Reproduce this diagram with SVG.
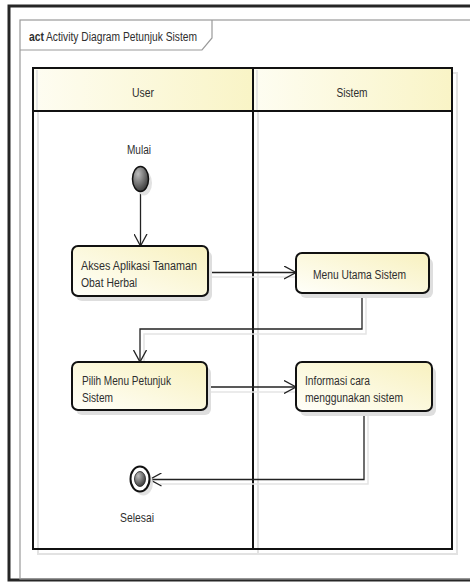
<svg xmlns="http://www.w3.org/2000/svg" width="470" height="583" viewBox="0 0 470 583">
  <defs>
    <linearGradient id="hdrFill" x1="0" y1="0" x2="1" y2="0">
      <stop offset="0" stop-color="#fefdf2"/>
      <stop offset="1" stop-color="#f9f4c6"/>
    </linearGradient>
    <linearGradient id="actFill" x1="0" y1="1" x2="1" y2="0">
      <stop offset="0" stop-color="#fffffa"/>
      <stop offset="1" stop-color="#f8f1bf"/>
    </linearGradient>
    <radialGradient id="nodeFill" cx="0.35" cy="0.3" r="0.8">
      <stop offset="0" stop-color="#bdbdbd"/>
      <stop offset="1" stop-color="#2e2e2e"/>
    </radialGradient>
    <marker id="open" viewBox="0 0 12 14" refX="12" refY="7" markerWidth="12" markerHeight="14" markerUnits="userSpaceOnUse" orient="auto">
      <path d="M0,0.5 L12,7 L0,13.5" fill="none" stroke="#222" stroke-width="1.3"/>
    </marker>
  </defs>
  <style>
    .frame { fill: none; stroke: #262626; stroke-width: 3; }
    .inner { fill: none; stroke: #9a9a9a; stroke-width: 1.2; }
    .lane { fill: none; stroke: #111; stroke-width: 2; }
    .shadow { fill: none; stroke: #e2e2e2; stroke-width: 2; }
    .box { fill: url(#actFill); stroke: #111; stroke-width: 2; }
    .boxShadow { fill: #dedede; }
    .txt { font-family: "Liberation Sans", Arial, sans-serif; font-size: 12.5px; fill: #2e2e2e; }
    .edge { fill: none; stroke: #222; stroke-width: 1.3; }
    .edgeShadow { fill: none; stroke: #e4e4e4; stroke-width: 1.5; }
  </style>

  <rect width="470" height="583" fill="#ffffff"/>

  <!-- outer frame and diagram frame -->
  <rect class="frame" x="9" y="6" width="470" height="574"/>
  <rect class="inner" x="20" y="20" width="470" height="559"/>

  <!-- diagram name tab -->
  <g id="title">
    <path class="inner" d="M20,50 H202 L212,38 V20"/>
    <text x="29" y="41" class="txt" font-size="12" font-weight="bold" fill="#000" textLength="15" lengthAdjust="spacingAndGlyphs">act</text>
    <text x="46" y="41" class="txt" font-size="12" textLength="151" lengthAdjust="spacingAndGlyphs">Activity Diagram Petunjuk Sistem</text>
  </g>

  <!-- swimlanes -->
  <g id="lanes">
    <rect class="shadow" x="38" y="73" width="220" height="481"/>
    <rect class="shadow" x="258" y="73" width="199" height="481"/>
    <rect x="33" y="68" width="220" height="43" fill="url(#hdrFill)"/>
    <rect x="253" y="68" width="199" height="43" fill="url(#hdrFill)"/>
    <line x1="37" y1="70" x2="37" y2="110" stroke="#e0e0e0" stroke-width="1.5"/>
    <line x1="257" y1="70" x2="257" y2="110" stroke="#e0e0e0" stroke-width="1.5"/>
    <rect class="lane" x="33" y="68" width="419" height="481"/>
    <line class="lane" x1="253" y1="68" x2="253" y2="549"/>
    <line class="lane" x1="33" y1="111" x2="452" y2="111"/>
    <text class="txt" x="143" y="97" text-anchor="middle" textLength="22" lengthAdjust="spacingAndGlyphs">User</text>
    <text class="txt" x="352" y="97" text-anchor="middle" textLength="31" lengthAdjust="spacingAndGlyphs">Sistem</text>
  </g>

  <!-- connectors -->
  <g id="connectors">
    <path class="edgeShadow" d="M212,277 H297"/>
    <path class="edgeShadow" d="M366,298 V334 H144 V362"/>
    <path class="edgeShadow" d="M211,392 H297"/>
    <path class="edgeShadow" d="M368,416 V484 H160"/>
    <path class="edge" d="M140.5,192 V246" marker-end="url(#open)"/>
    <path class="edge" d="M208,272.5 H296" marker-end="url(#open)"/>
    <path class="edge" d="M362,293 V329 H140 V362" marker-end="url(#open)"/>
    <path class="edge" d="M207,387 H296" marker-end="url(#open)"/>
    <path class="edge" d="M364,411 V479.5 H149.5" marker-end="url(#open)"/>
  </g>

  <!-- start node -->
  <g id="mulai">
    <ellipse cx="144" cy="183" rx="8" ry="12.5" fill="#e2e2e2"/>
    <ellipse cx="140.5" cy="179" rx="8" ry="12.5" fill="url(#nodeFill)" stroke="#111" stroke-width="1.5"/>
    <text class="txt" x="139" y="154" text-anchor="middle" textLength="24" lengthAdjust="spacingAndGlyphs">Mulai</text>
  </g>

  <!-- actions -->
  <g id="akses">
    <rect class="boxShadow" x="76" y="251" width="136" height="50" rx="6"/>
    <rect class="box" x="72" y="246" width="136" height="50" rx="6"/>
    <text class="txt" x="81" y="270" textLength="116" lengthAdjust="spacingAndGlyphs">Akses Aplikasi Tanaman</text>
    <text class="txt" x="81" y="287" textLength="56" lengthAdjust="spacingAndGlyphs">Obat Herbal</text>
  </g>

  <g id="menu-utama">
    <rect class="boxShadow" x="300" y="258" width="133" height="40" rx="6"/>
    <rect class="box" x="296" y="253" width="133" height="40" rx="6"/>
    <text class="txt" x="313" y="279" textLength="93" lengthAdjust="spacingAndGlyphs">Menu Utama Sistem</text>
  </g>

  <g id="pilih">
    <rect class="boxShadow" x="76" y="367" width="135" height="48" rx="6"/>
    <rect class="box" x="72" y="362" width="135" height="48" rx="6"/>
    <text class="txt" x="82" y="385" textLength="89" lengthAdjust="spacingAndGlyphs">Pilih Menu Petunjuk</text>
    <text class="txt" x="82" y="402" textLength="31" lengthAdjust="spacingAndGlyphs">Sistem</text>
  </g>

  <g id="informasi">
    <rect class="boxShadow" x="300" y="367" width="136" height="49" rx="6"/>
    <rect class="box" x="296" y="362" width="136" height="49" rx="6"/>
    <text class="txt" x="305" y="385" textLength="65" lengthAdjust="spacingAndGlyphs">Informasi cara</text>
    <text class="txt" x="305" y="402" textLength="98" lengthAdjust="spacingAndGlyphs">menggunakan sistem</text>
  </g>

  <!-- final node -->
  <g id="selesai">
    <ellipse cx="143.5" cy="483" rx="9.5" ry="12.5" fill="#e2e2e2"/>
    <ellipse cx="140" cy="479" rx="9.5" ry="12.5" fill="#ffffff" stroke="#111" stroke-width="2"/>
    <ellipse cx="140" cy="479" rx="5.5" ry="7.5" fill="url(#nodeFill)" stroke="#222" stroke-width="0.8"/>
    <text class="txt" x="137" y="522" text-anchor="middle" textLength="34" lengthAdjust="spacingAndGlyphs">Selesai</text>
  </g>
</svg>
